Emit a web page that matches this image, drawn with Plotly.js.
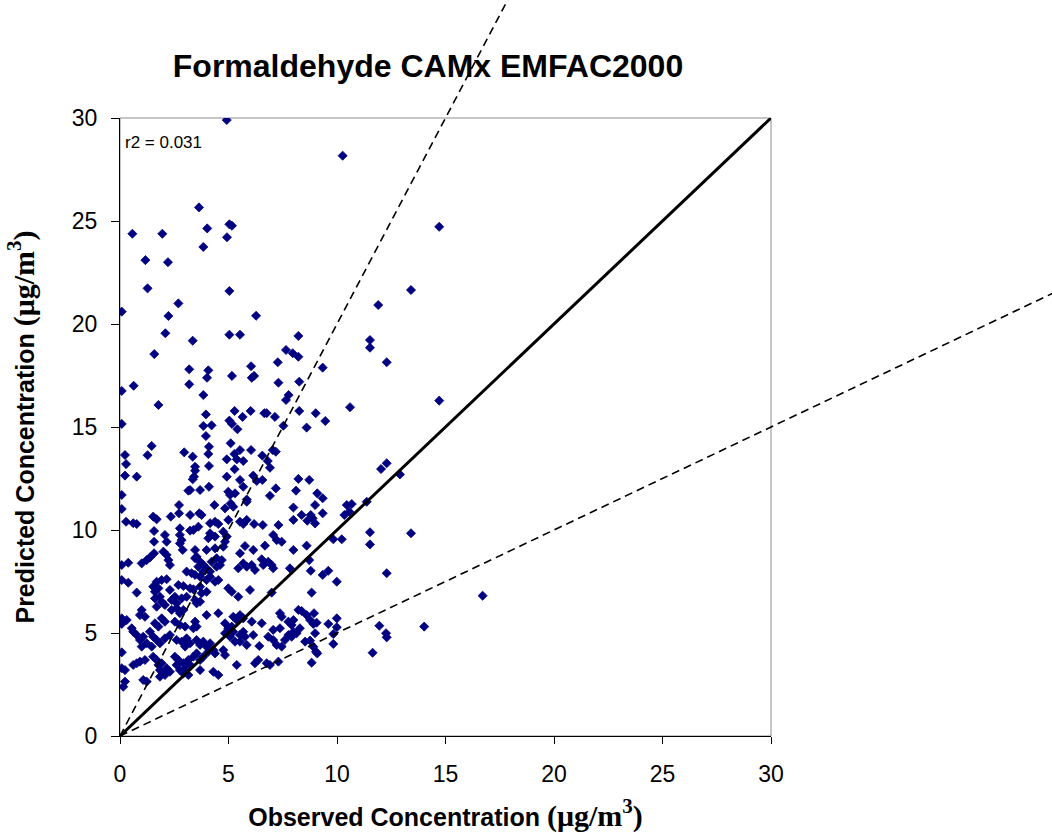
<!DOCTYPE html>
<html><head><meta charset="utf-8">
<script src="https://cdn.plot.ly/plotly-3.0.1.min.js"></script>
<style>html,body{margin:0;padding:0;background:#fff}#chart{width:1052px;height:837px}</style>
</head><body><div id="chart"></div>
<script>
// Observed vs predicted formaldehyde concentrations (ug/m3)
const observed = [
4.92,3.64,4.02,5.04,5.16,4.93,3.84,0.57,1.95,1.17,2.21,1.27,5.04,2.69,
10.26,14.71,13.41,
0.08,2.23,6.27,2.09,3.35,5.04,5.53,8.22,1.58,7.65,7.96,8.22,7.27,3.19,4.07,4.01,5.16,6.04,6.07,6.18,3.19,0.63,0.08,7.3,8.26,3.84,7.77,7.65,1.77,3.96,5.28,6.02,5.65,6.65,6.76,7.14,8.26,0.08,5.04,5.16,5.41,3.84,4.22,3.96,7.53,5.1,1.46,1.27,0.23,0.28,0.23,0.77,2.96,3.35,4.1,4.07,3.46,3.46,3.41,3.35,4.1,4.92,5.27,5.38,5.53,5.68,6.04,5.28,6.56,6.81,6.91,7.04,7.18,4.92,6.14,6.3,6.56,5.53,5.68,7.18,8.22,0.08,3.15,3.23,3.69,4.1,4.99,5.07,5.3,6.91,8.11,5.84,
11.9,11.52,11.52,12.29,10.6,14.71,9.34,9.02,9.46,8.6,12.03,12.29,12.9,8.72,9.09,9.34,
8.99,10.45,10.68,11.37,8.37,8.79,8.88,8.99,8.63,9.34,10.34,10.57,11.52,11.52,13.41,8.6,9.83,10.22,8.72,8.79,9.34,9.6,9.99,12.29,8.83,16.71,8.37,8.6,8.76,8.94,9.06,8.91,9.99,9.6,9.99,9.83,8.29,8.99,8.53,8.76,8.91,9.03,9.09,9.83,8.83,11.95,12.26,12.29,14.02,11.64,
0.08,0.28,0.61,0.77,1.53,1.69,2.34,2.72,2.72,3.23,3.65,3.76,4.35,4.15,4.38,4.53,4.84,5.1,5.22,4.99,5.53,5.68,5.84,6.18,6.58,5.84,7.99,7.99,7.3,
1.57,2.07,2.15,1.57,2.76,2.76,2.84,3.23,3.38,3.61,4.15,4.38,4.07,4.76,4.92,4.84,4.76,7.06,7.22,7.45,6.68,5.76,6.14,7.99,2.76,2.89,3.46,3.53,3.99,4.38,1.57,2.0,2.15,5.53,
0.08,0.38,1.0,1.23,1.38,2.23,2.3,3.46,3.69,3.61,3.84,4.22,4.45,4.69,3.84,3.99,4.15,4.45,4.61,5.45,5.68,5.84,6.07,6.22,6.53,6.6,6.83,6.99,7.06,7.83,3.07,3.3,3.46,3.69,3.99,4.15,0.08,0.38,1.69,1.92,2.15,2.69,2.92,4.38,4.53,1.53,1.61,1.77,2.3,0.77,3.23,3.38,3.69,4.99,5.15,5.99,5.45,6.99,
1.61,1.84,1.92,2.07,1.69,2.38,2.53,2.61,2.84,3.07,3.46,3.53,3.69,3.76,3.99,1.0,0.92,1.15,2.38,2.61,2.76,2.92,3.99,4.53,5.22,5.38,5.53,5.68,6.07,6.53,7.37,7.45,0.08,0.08,0.31,1.92,2.07,1.61,1.77,2.53,2.76,3.0,3.46,3.53,3.38,4.84,4.99,5.15,7.76,7.91,7.99,8.22,7.37,7.06,
0.54,0.61,0.77,0.92,1.07,1.38,1.53,1.23,1.46,1.0,1.69,1.84,2.07,2.3,2.61,2.84,3.07,3.23,3.0,3.53,3.69,3.84,3.99,4.15,4.07,4.3,4.38,4.76,4.84,4.84,5.07,5.22,5.53,5.68,5.76,5.3,5.53,5.84,6.14,6.42,6.83,7.06,7.22,7.45,7.6,7.76,7.91,7.99,8.14,0.08,
0.61,0.77,0.92,1.15,0.08,0.23,1.53,1.69,1.77,1.92,1.84,2.0,2.15,2.3,2.53,2.69,2.61,2.92,2.76,3.0,3.15,3.23,3.38,3.53,3.69,3.84,3.69,4.3,4.53,1.84,2.07,1.23,1.07,0.23,0.15,5.38,6.22,6.37,6.76,6.91,7.3,2.92,3.15
];
const predicted = [
29.9,25.66,24.64,24.84,24.77,24.21,23.74,24.38,24.38,23.1,23.0,21.73,21.6,21.0,
28.17,24.72,21.65,
20.6,20.39,20.4,19.55,19.19,19.48,19.48,19.42,18.54,18.74,18.58,18.41,18.14,17.8,17.75,17.39,17.48,17.95,17.39,17.48,17.07,17.0,16.75,17.15,17.2,16.55,16.55,16.31,16.07,15.61,15.78,15.78,15.49,15.67,15.67,15.49,15.78,15.15,15.31,15.15,14.89,15.05,15.08,14.56,15.06,14.21,14.08,13.63,13.64,13.2,12.64,12.59,13.77,13.56,14.04,13.69,13.07,12.88,12.59,12.46,13.11,13.43,13.69,13.43,13.88,13.35,13.88,12.95,13.61,13.35,13.02,13.88,13.8,12.59,12.64,12.38,12.43,12.43,12.1,12.02,12.48,11.7,11.91,11.94,11.94,12.1,11.86,11.7,11.78,11.66,11.91,11.48,
20.92,19.22,18.85,18.14,15.96,16.28,17.88,15.67,15.29,14.97,12.96,13.24,12.7,12.43,11.78,11.54,
11.21,11.21,11.26,11.37,10.73,10.73,10.57,10.32,10.45,10.81,10.73,10.89,9.89,9.3,9.84,9.24,9.55,9.55,8.54,8.02,7.82,8.02,7.49,7.9,6.96,6.81,6.07,5.87,5.63,5.96,5.5,5.44,5.71,5.44,5.28,4.95,5.23,4.99,4.58,4.63,4.33,4.09,4.01,4.47,3.56,5.35,4.99,4.79,5.31,4.04,
11.02,10.4,10.33,10.29,10.65,10.52,10.65,11.21,10.81,10.73,10.81,10.73,11.21,10.33,10.4,10.29,11.05,11.29,11.13,10.49,10.4,10.29,10.49,10.29,10.24,11.37,11.09,10.49,10.24,
9.95,9.76,9.43,9.43,10.08,9.76,9.51,9.97,10.0,10.16,9.84,9.68,9.6,9.92,9.68,9.43,9.19,9.76,9.51,9.43,9.24,9.22,9.03,9.03,9.35,9.03,9.03,8.7,9.03,9.11,8.87,8.95,8.79,8.87,
8.3,8.41,8.38,8.54,8.67,8.54,8.3,8.63,8.46,8.22,8.3,8.46,8.63,8.54,7.98,8.14,7.98,8.22,8.3,8.14,8.38,8.22,8.3,8.06,8.58,8.3,8.46,8.3,8.14,8.14,7.98,7.9,7.82,7.73,7.57,7.73,7.57,7.44,7.49,7.57,7.61,7.33,7.28,7.49,7.57,7.25,7.0,7.17,7.09,6.96,7.17,7.12,7.25,7.17,7.0,7.09,6.76,6.96,
6.68,6.76,6.52,6.36,6.28,6.6,6.76,6.44,6.68,6.76,6.6,6.44,6.52,6.93,7.0,6.12,5.87,5.79,6.12,6.2,5.96,6.12,5.87,5.96,5.79,5.63,5.87,5.71,5.55,5.47,5.96,5.79,5.71,5.44,5.63,5.71,5.55,5.47,5.31,5.55,5.39,5.31,5.55,5.31,5.23,5.47,5.23,5.31,5.55,5.39,5.63,6.12,5.23,5.15,
5.23,5.06,4.9,4.66,4.82,5.06,4.82,4.5,4.34,4.34,4.66,4.5,4.74,4.9,4.66,4.58,4.74,4.5,4.34,4.66,4.42,4.58,4.34,4.5,4.09,4.17,4.01,4.17,3.93,4.99,4.82,5.06,4.9,5.06,4.82,4.58,4.58,4.42,4.9,4.37,4.82,4.66,4.42,4.34,4.66,4.9,4.82,5.06,4.99,4.06,
3.45,3.53,3.61,3.69,3.29,3.2,3.85,3.69,3.45,3.53,3.2,3.04,3.29,3.12,3.85,3.69,3.45,3.53,3.2,3.29,3.69,3.45,3.85,4.01,3.69,3.85,3.2,3.12,2.96,2.88,2.96,2.64,2.72,2.64,2.39,3.45,3.53,3.69,3.53,3.45,3.61,3.04,2.96
];
const axisTicks = [0, 5, 10, 15, 20, 25, 30];
const oneToOneX = [0, 30], oneToOneY = [0, 30];
const twoToOneX = [0, 20], twoToOneY = [0, 40];
const oneToTwoX = [0, 50], oneToTwoY = [0, 25];
const r2Text = 'r2 = 0.031';

const W = 1052, H = 837;
const box = {l: 120, r: 771, t: 118, b: 736};
const xr = [0, 30], yr = [0, 30];
const pxX = (box.r - box.l) / (xr[1] - xr[0]);
const pxY = (box.b - box.t) / (yr[1] - yr[0]);
const fullX = [xr[0] - box.l / pxX, xr[0] + (W - box.l) / pxX];
const fullY = [yr[0] - (H - box.b) / pxY, yr[0] + box.b / pxY];

const SANS = 'Liberation Sans, Arial, sans-serif';
const SERIF = 'Liberation Serif, Times New Roman, serif';

const traces = [
  {x: observed, y: predicted, type: 'scatter', mode: 'markers', xaxis: 'x', yaxis: 'y',
   marker: {symbol: 'diamond', size: 7, color: '#000080', line: {width: 0.8, color: '#000080'}}, hoverinfo: 'skip', showlegend: false},
  {x: oneToOneX, y: oneToOneY, type: 'scatter', mode: 'lines', xaxis: 'x', yaxis: 'y',
   line: {color: '#000', width: 3}, hoverinfo: 'skip', showlegend: false},
  {x: twoToOneX, y: twoToOneY, type: 'scatter', mode: 'lines', xaxis: 'x2', yaxis: 'y2',
   line: {color: '#000', width: 1.6, dash: '8px,5px'}, hoverinfo: 'skip', showlegend: false},
  {x: oneToTwoX, y: oneToTwoY, type: 'scatter', mode: 'lines', xaxis: 'x2', yaxis: 'y2',
   line: {color: '#000', width: 1.6, dash: '8px,5px'}, hoverinfo: 'skip', showlegend: false}
];

const unit = '<span style="font-family:' + SERIF + ';font-size:30px"><b>(μg/m<sup>3</sup>)</b></span>';

const layout = {
  width: W, height: H,
  margin: {l: 0, r: 0, t: 0, b: 0},
  paper_bgcolor: '#fff', plot_bgcolor: 'rgba(0,0,0,0)',
  showlegend: false,
  font: {family: SANS, color: '#000'},
  title: {text: '<b>Formaldehyde CAMx EMFAC2000</b>', font: {family: SANS, size: 32, color: '#000'},
          xref: 'paper', x: 428 / W, xanchor: 'center', yref: 'paper', y: 1 - 66 / H, yanchor: 'middle'},
  xaxis: {domain: [box.l / W, box.r / W], range: xr, anchor: 'y', tickvals: axisTicks,
          ticks: 'outside', ticklen: 7, tickcolor: '#000', tickwidth: 1, ticklabelstandoff: 10,
          showline: true, linecolor: '#000', linewidth: 1, showgrid: false, zeroline: false,
          tickfont: {family: SANS, size: 23, color: '#000'},
          title: {text: '<b>Observed Concentration </b>' + unit, font: {family: SANS, size: 25, color: '#000'}, standoff: 22}},
  yaxis: {domain: [1 - box.b / H, 1 - box.t / H], range: yr, anchor: 'x', tickvals: axisTicks,
          ticks: 'outside', ticklen: 8, tickcolor: '#000', tickwidth: 1, ticklabelstandoff: 9,
          showline: true, linecolor: '#000', linewidth: 1, showgrid: false, zeroline: false,
          tickfont: {family: SANS, size: 23, color: '#000'},
          title: {text: '<b>Predicted Concentration </b>' + unit, font: {family: SANS, size: 25, color: '#000'}, standoff: 30}},
  xaxis2: {domain: [0, 1], range: fullX, anchor: 'y2', visible: false, fixedrange: true},
  yaxis2: {domain: [0, 1], range: fullY, anchor: 'x2', visible: false, fixedrange: true},
  shapes: [
    {type: 'rect', xref: 'x domain', yref: 'y domain', x0: 0, x1: 1, y0: 0, y1: 1,
     line: {color: '#8c8c8c', width: 1}, fillcolor: 'rgba(0,0,0,0)', layer: 'below'}
  ],
  annotations: [
    {text: r2Text, xref: 'x', yref: 'y', x: 0.12, y: 28.8, xanchor: 'left', yanchor: 'middle',
     showarrow: false, font: {family: SANS, size: 17, color: '#000'}}
  ]
};

Plotly.newPlot('chart', traces, layout, {staticPlot: true, displayModeBar: false});
</script>
</body></html>
